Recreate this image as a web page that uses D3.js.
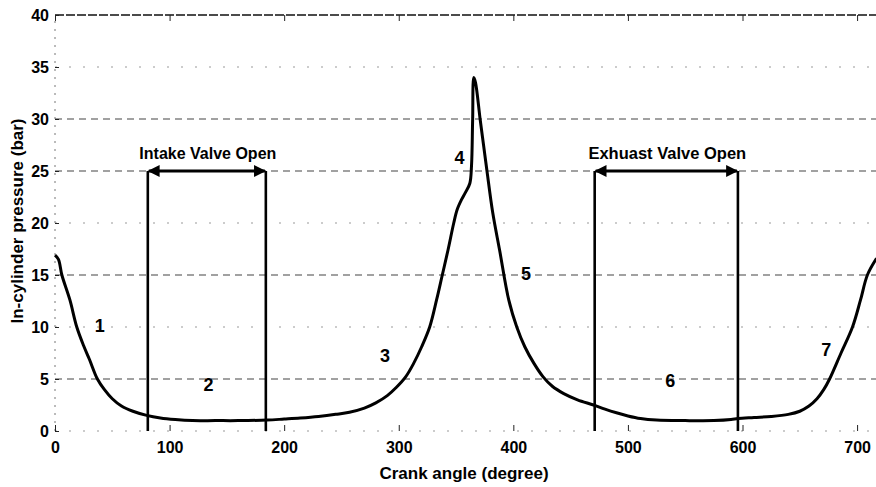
<!DOCTYPE html>
<html>
<head>
<meta charset="utf-8">
<script src="https://cdn.jsdelivr.net/npm/d3@7"></script>
<style>
  body { margin: 0; background: #fff; }
  svg { display: block; font-family: "Liberation Sans", Arial, sans-serif; font-weight: bold; }
</style>
</head>
<body>
<svg id="chart" width="876" height="487"></svg>
<script>
// crank angle (deg) and in-cylinder pressure (bar)
const angle = [0, 3, 6, 13, 19, 25, 30, 37, 43, 50, 58, 68, 80, 92, 105, 120, 140, 160, 185,
  200, 214, 230, 245, 257, 270, 280, 290, 298, 306, 313, 320, 327, 333, 338, 343, 348, 351, 355, 358, 362,
  363.5, 364.5, 365.5, 367, 371, 374, 377, 382, 388, 396, 403, 410, 418, 426, 434, 444, 456, 470, 480,
  490, 500, 511, 525, 550, 575, 590, 596, 610, 625, 640, 650, 658, 665, 671, 676, 686, 696, 703, 709, 717];
const pressure = [16.9, 16.5, 15.0, 12.6, 10.0, 8.2, 6.9, 5.0, 4.0, 3.1, 2.4, 1.9, 1.5, 1.25, 1.1, 1.0, 1.0, 1.0, 1.05,
  1.15, 1.25, 1.4, 1.6, 1.8, 2.2, 2.7, 3.4, 4.2, 5.2, 6.5, 8.1, 10.0, 12.6, 15.0, 17.4, 20.0, 21.3, 22.3, 22.9, 23.8,
  25.5, 30.0, 34.0, 33.5, 30.0, 27.5, 25.0, 21.0, 17.4, 12.6, 10.0, 8.1, 6.5, 5.2, 4.3, 3.6, 3.0, 2.5, 2.1,
  1.75, 1.45, 1.2, 1.05, 1.0, 1.0, 1.1, 1.2, 1.3, 1.4, 1.6, 1.9, 2.4, 3.1, 4.0, 5.0, 7.5, 10.0, 12.6, 15.0, 16.6];

const xTicks = [0, 100, 200, 300, 400, 500, 600, 700];
const yTicks = [0, 5, 10, 15, 20, 25, 30, 35, 40];

const intake = [81, 184];
const exhaust = [471, 596];
const valveLevel = 25;

const phases = [
  {n: "1", a: 39, p: 10.1},
  {n: "2", a: 134, p: 4.5},
  {n: "3", a: 288, p: 7.2},
  {n: "4", a: 353, p: 26.3},
  {n: "5", a: 411, p: 15.1},
  {n: "6", a: 537, p: 4.8},
  {n: "7", a: 673, p: 7.8}
];

const svg = d3.select("#chart");
const x = d3.scaleLinear().domain([0, 720]).range([55, 880]);
const y = d3.scaleLinear().domain([0, 40]).range([431, 15]);

// grid
const dashed = [5, 15, 25, 30];
svg.append("g").selectAll("line")
  .data(yTicks.filter(d => d < 40))
  .join("line")
  .attr("x1", x(0)).attr("x2", 876)
  .attr("y1", d => y(d)).attr("y2", d => y(d))
  .attr("stroke", d => dashed.includes(d) ? "#444" : "#999")
  .attr("stroke-width", 1.2)
  .attr("stroke-dasharray", d => dashed.includes(d) ? "7,5" : "2,12");

// top border
svg.append("line")
  .attr("x1", x(0)).attr("x2", 876)
  .attr("y1", y(40)).attr("y2", y(40))
  .attr("stroke", "#111").attr("stroke-width", 1.6)
  .attr("stroke-dasharray", "9,2");

// left border (dotted)
svg.append("line")
  .attr("x1", x(0)).attr("x2", x(0))
  .attr("y1", y(0)).attr("y2", y(40))
  .attr("stroke", "#777").attr("stroke-dasharray", "2,6");

// axes
const yAxis = svg.append("g")
  .attr("transform", `translate(${x(0)},0)`)
  .call(d3.axisLeft(y).tickValues(yTicks).tickSize(-4).tickPadding(6));
const xAxis = svg.append("g")
  .attr("transform", `translate(0,${y(0)})`)
  .call(d3.axisBottom(x).tickValues(xTicks).tickSize(-6).tickPadding(11));
const xTop = svg.append("g")
  .attr("transform", `translate(0,${y(40)})`)
  .call(d3.axisTop(x).tickValues(xTicks).tickSize(-6).tickFormat(""));

[yAxis, xAxis, xTop].forEach(g => {
  g.select(".domain").remove();
  g.selectAll(".tick line").attr("stroke", "#222");
  g.selectAll("text").attr("fill", "#000")
    .style("font-size", "16px").style("font-weight", "bold")
    .style("font-family", "'Liberation Sans', Arial, sans-serif");
});

// pressure curve
const pts = angle.map((a, i) => [a, pressure[i]]);
svg.append("path")
  .datum(pts)
  .attr("fill", "none")
  .attr("stroke", "#000")
  .attr("stroke-width", 3)
  .attr("stroke-linejoin", "round")
  .attr("d", d3.line().x(d => x(d[0])).y(d => y(d[1])).curve(d3.curveCatmullRom.alpha(0.5)));

// arrow head
svg.append("defs").append("marker")
  .attr("id", "head")
  .attr("viewBox", "0 0 10 10")
  .attr("refX", 9).attr("refY", 5)
  .attr("markerWidth", 5).attr("markerHeight", 4)
  .attr("markerUnits", "strokeWidth")
  .attr("orient", "auto-start-reverse")
  .append("path").attr("d", "M0,0L10,5L0,10z").attr("fill", "#000");

function valve(range, label, size) {
  const g = svg.append("g");
  range.forEach(a => {
    g.append("line")
      .attr("x1", x(a)).attr("x2", x(a))
      .attr("y1", y(0)).attr("y2", y(valveLevel))
      .attr("stroke", "#000").attr("stroke-width", 2.6);
  });
  g.append("line")
    .attr("x1", x(range[0]) + 1).attr("x2", x(range[1]) - 1)
    .attr("y1", y(valveLevel)).attr("y2", y(valveLevel))
    .attr("stroke", "#000").attr("stroke-width", 3)
    .attr("marker-start", "url(#head)")
    .attr("marker-end", "url(#head)");
  g.append("text")
    .attr("x", (x(range[0]) + x(range[1])) / 2 + 1)
    .attr("y", y(valveLevel) - 12)
    .attr("text-anchor", "middle")
    .style("font-size", size + "px")
    .text(label);
}
valve(intake, "Intake Valve Open", 16);
valve(exhaust, "Exhuast Valve Open", 16.5);

// phase numbers
svg.append("g").selectAll("text")
  .data(phases)
  .join("text")
  .attr("x", d => x(d.a))
  .attr("y", d => y(d.p))
  .attr("dy", "0.35em")
  .attr("text-anchor", "middle")
  .style("font-size", "18px")
  .text(d => d.n);

// axis titles
svg.append("text")
  .attr("x", 464).attr("y", 479)
  .attr("text-anchor", "middle")
  .style("font-size", "17px")
  .text("Crank angle (degree)");

svg.append("text")
  .attr("transform", "translate(23,221) rotate(-90)")
  .attr("text-anchor", "middle")
  .style("font-size", "17px")
  .text("In-cylinder pressure (bar)");
</script>
</body>
</html>
